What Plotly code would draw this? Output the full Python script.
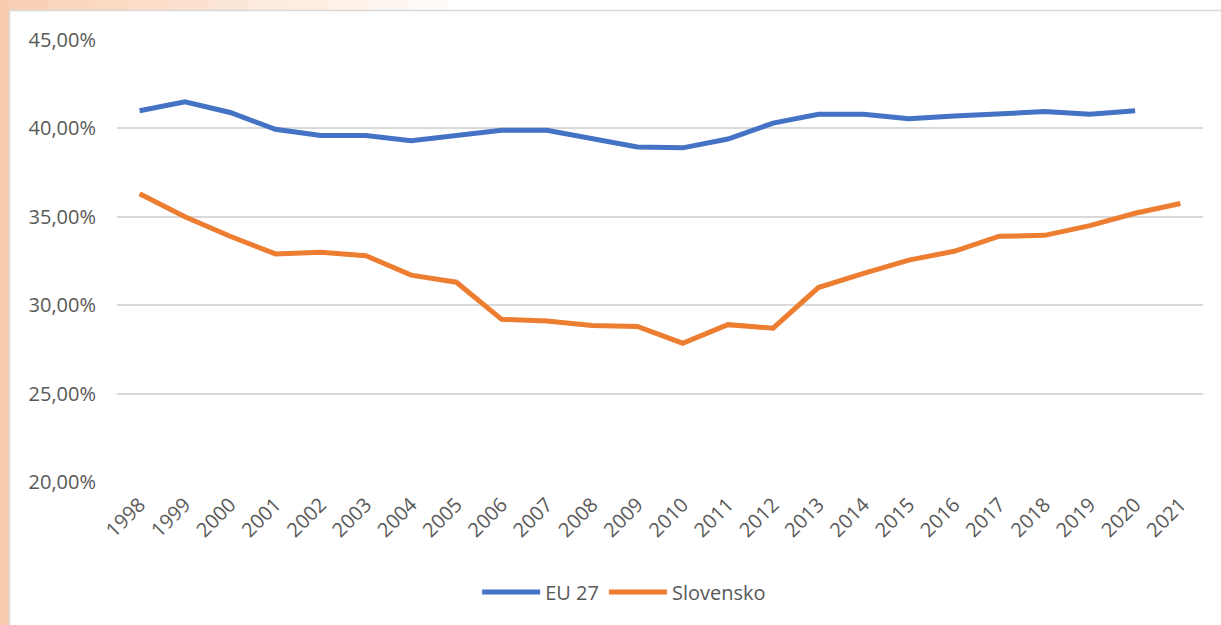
import plotly.graph_objects as go

years = [str(y) for y in range(1998, 2022)]

# podiel v % (odčítané z grafu)
eu27 = [41.0, 41.5, 40.9, 39.95, 39.6, 39.6, 39.3, 39.6, 39.9, 39.9, 39.4, 38.95,
        38.9, 39.4, 40.3, 40.8, 40.8, 40.55, 40.7, 40.8, 40.95, 40.8, 41.0, None]
slovensko = [36.3, 35.0, 33.9, 32.9, 33.0, 32.8, 31.7, 31.3, 29.2, 29.1, 28.85, 28.8,
             27.85, 28.9, 28.7, 31.0, 31.8, 32.55, 33.05, 33.9, 33.95, 34.5, 35.2, 35.75]

y_ticks = [20, 25, 30, 35, 40, 45]
y_labels = ["20,00%", "25,00%", "30,00%", "35,00%", "40,00%", "45,00%"]

BLUE = "#4472C4"
ORANGE = "#ED7D31"
TEXT = "#595959"
PEACH = "#F9CBAD"

fig = go.Figure()
fig.add_trace(go.Scatter(x=years, y=eu27, name="EU 27", mode="lines",
                         line=dict(color=BLUE, width=5)))
fig.add_trace(go.Scatter(x=years, y=slovensko, name="Slovensko", mode="lines",
                         line=dict(color=ORANGE, width=5)))

# pozadie: broskyňový okraj vľavo a hore, biely panel grafu
W, H = 1221, 625
L, R, T, B = 117, 18, 40, 143
pw, ph = W - L - R, H - T - B


def px_x(x):
    return (x - L) / pw


def px_y(y):
    return (H - B - y) / ph


shapes = [
    dict(type="rect", xref="paper", yref="paper", layer="below",
         x0=px_x(0), x1=px_x(9), y0=px_y(H), y1=px_y(0),
         fillcolor=PEACH, line_width=0),
]
# horný pruh s prechodom do bielej
steps = 12
for i in range(steps):
    x0 = 9 + i * 40
    shapes.append(dict(type="rect", xref="paper", yref="paper", layer="below",
                       x0=px_x(x0), x1=px_x(x0 + 40), y0=px_y(10), y1=px_y(0),
                       fillcolor=PEACH, opacity=max(0, 1 - i / (steps - 1)) * 0.9,
                       line_width=0))
shapes.append(dict(type="line", xref="paper", yref="paper", layer="below",
                   x0=px_x(9), x1=px_x(W), y0=px_y(10.5), y1=px_y(10.5),
                   line=dict(color="#D9D9D9", width=1.5)))
shapes.append(dict(type="line", xref="paper", yref="paper", layer="below",
                   x0=px_x(9.5), x1=px_x(9.5), y0=px_y(10), y1=px_y(H),
                   line=dict(color="#D9D9D9", width=1.5)))

fig.update_layout(
    width=W, height=H,
    margin=dict(l=L, r=R, t=T, b=B),
    paper_bgcolor="white",
    plot_bgcolor="white",
    font=dict(family="Open Sans", size=20, color=TEXT),
    shapes=shapes,
    showlegend=True,
    legend=dict(orientation="h", x=0.467, xanchor="center", y=-0.249, yanchor="middle",
                font=dict(size=20, color=TEXT), itemwidth=58),
    xaxis=dict(type="category", tickangle=-45, showgrid=False, zeroline=False,
               showline=False, ticks="", ticklabelstandoff=6,
               range=[-0.5, len(years) - 0.5]),
    yaxis=dict(range=[20, 45], tickvals=y_ticks, ticktext=y_labels,
               showgrid=True, gridcolor="#D9D9D9", gridwidth=1.5,
               zeroline=False, showline=False, ticks="", ticklabelstandoff=20),
)

fig.write_html("out.html", config={"displayModeBar": False},
               post_script="document.body.style.margin='0';")
